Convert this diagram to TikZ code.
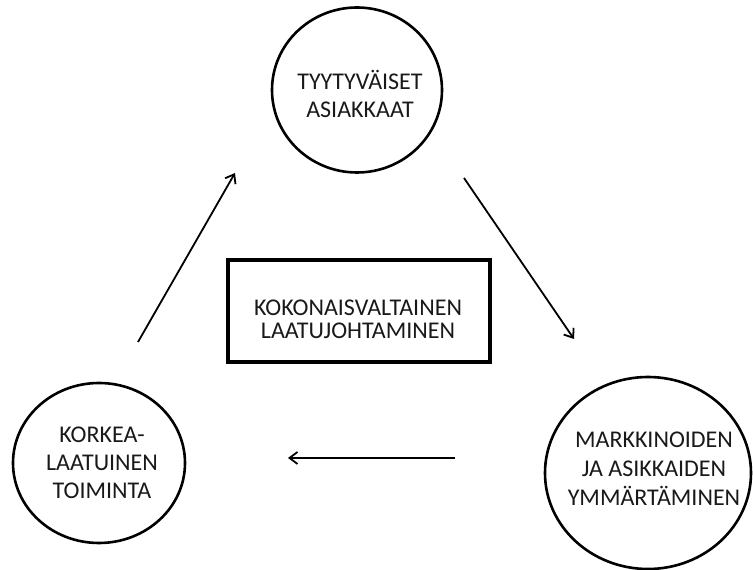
\documentclass[tikz,border=0pt]{standalone}
\usepackage{fontspec}
\setmainfont{Carlito}
\usetikzlibrary{shapes.geometric,arrows.meta}

\begin{document}
\begin{tikzpicture}[x=1pt,y=1pt,
  ring/.style={draw,ellipse,line width=2.6pt,inner sep=0pt},
  lbl/.style={align=center,text=black!90,font=\fontsize{24}{28}\selectfont},
  flow/.style={line width=1.8pt,-{Straight Barb[length=8pt,width=12pt]}}]
\useasboundingbox (0,0) rectangle (753,570);

% three rings
\node[ring,minimum width=170,minimum height=165] (top) at (357,480) {};
\node[lbl] (toptxt) at (360,476) {TYYTYVÄISET\\ASIAKKAAT};

\node[ring,minimum width=172,minimum height=160] (left) at (99,107) {};
\node[lbl] (lefttxt) at (102,107) {KORKEA-\\LAATUINEN\\TOIMINTA};

\node[ring,minimum width=206,minimum height=192] (right) at (648,97) {};
\node[lbl,font=\fontsize{24}{29}\selectfont] (righttxt) at (654,101) {MARKKINOIDEN\\JA ASIKKAIDEN\\YMMÄRTÄMINEN};

% centre box
\node[draw,line width=3.2pt,minimum width=262,minimum height=102] (box) at (359,259) {};
\node[lbl,font=\fontsize{24}{23}\selectfont] (boxtxt) at (358,251) {KOKONAISVALTAINEN\\LAATUJOHTAMINEN};

% arrows
\coordinate (p1) at (138,228);
\coordinate (p2) at (235,397);
\coordinate (p3) at (464,392);
\coordinate (p4) at (574,231);
\coordinate (p5) at (455,112);
\coordinate (p6) at (288,112);
\draw[flow] (p1) -- (p2);
\draw[flow] (p3) -- (p4);
\draw[flow] (p5) -- (p6);
\end{tikzpicture}
\end{document}
